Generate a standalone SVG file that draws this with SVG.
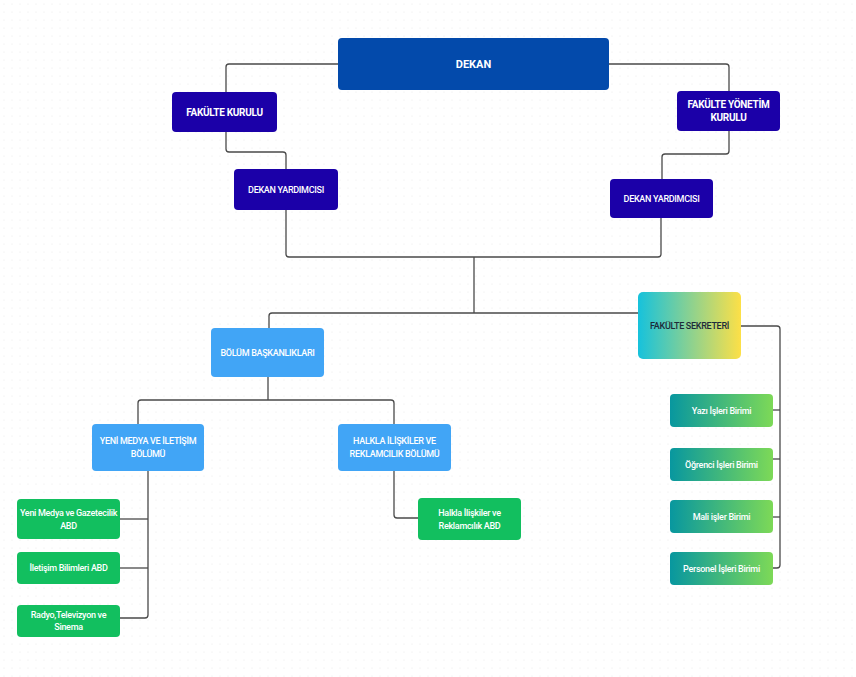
<svg xmlns="http://www.w3.org/2000/svg" width="856" height="677" viewBox="0 0 856 677">
<style>
.t{font-family:Roboto,"Liberation Sans",sans-serif;text-anchor:middle;dominant-baseline:central}
.w{fill:#ffffff}
.b{font-weight:bold}
.m{font-weight:500;font-size:9px;letter-spacing:-0.3px}
.c{fill:none;stroke:#4a4a4a;stroke-width:1.3}
</style>
<defs>
<pattern id="dots" width="8" height="8" patternUnits="userSpaceOnUse">
<circle cx="4" cy="4" r="0.6" fill="#e6e6e6"/>
</pattern>
<linearGradient id="gs" x1="0" y1="0" x2="1" y2="0">
<stop offset="0" stop-color="#16c2dc"/>
<stop offset="1" stop-color="#fde047"/>
</linearGradient>
<linearGradient id="gt" x1="0" y1="0" x2="1" y2="0">
<stop offset="0" stop-color="#08979f"/>
<stop offset="1" stop-color="#7dd957"/>
</linearGradient>
</defs>
<rect width="856" height="677" fill="#ffffff"/>
<rect width="856" height="677" fill="url(#dots)"/>
<g id="connectors" class="c">
<path d="M338,64 H229 Q226,64 226,67 V92"/>
<path d="M226,132 V149 Q226,152 229,152 H283 Q286,152 286,155 V169"/>
<path d="M286,210 V254 Q286,257 289,257 H658 Q661,257 661,254 V218"/>
<path d="M474,257 V313"/>
<path d="M638,313 H272 Q269,313 269,316 V328"/>
<path d="M609,64 H726 Q729,64 729,67 V91"/>
<path d="M729,131 V151 Q729,154 726,154 H665 Q662,154 662,157 V179"/>
<path d="M268,377 V400"/>
<path d="M138,424 V403 Q138,400 141,400 H391 Q394,400 394,403 V424"/>
<path d="M148,471 V615 Q148,618 145,618 H120"/>
<path d="M148,519 H120"/>
<path d="M148,568 H120"/>
<path d="M394,471 V515 Q394,518 397,518 H418"/>
<path d="M741,326 H777 Q780,326 780,329 V565 Q780,568 777,568 H773"/>
<path d="M780,410 H773"/>
<path d="M780,459 H773"/>
<path d="M780,517 H773"/>
</g>
<g id="dekan">
<rect x="338" y="38" width="271" height="52" rx="4" fill="#034aab"/>
<text class="t w b" x="473.5" y="64" font-size="11">DEKAN</text>
</g>
<g id="fakulte-kurulu">
<rect x="172" y="92" width="105" height="40" rx="4" fill="#1b00a8"/>
<text class="t w b" x="224.5" y="112" font-size="10" letter-spacing="-0.3">FAKÜLTE KURULU</text>
</g>
<g id="fakulte-yonetim-kurulu">
<rect x="677" y="91" width="103" height="40" rx="4" fill="#1b00a8"/>
<text class="t w b" x="728.5" y="104.5" font-size="10" letter-spacing="-0.3">FAKÜLTE YÖNETİM</text>
<text class="t w b" x="728.5" y="117.5" font-size="10" letter-spacing="-0.3">KURULU</text>
</g>
<g id="dekan-yardimcisi-1">
<rect x="234" y="169" width="104" height="41" rx="4" fill="#1b00a8"/>
<text class="t w m" x="286" y="189.5">DEKAN YARDIMCISI</text>
</g>
<g id="dekan-yardimcisi-2">
<rect x="610" y="179" width="103" height="39" rx="4" fill="#1b00a8"/>
<text class="t w m" x="661.5" y="198.5">DEKAN YARDIMCISI</text>
</g>
<g id="bolum-baskanliklari">
<rect x="211" y="328" width="113" height="49" rx="4" fill="#41a5f6"/>
<text class="t w m" x="267.5" y="352.5">BÖLÜM BAŞKANLIKLARI</text>
</g>
<g id="fakulte-sekreteri">
<rect x="638" y="292" width="103" height="67" rx="5" fill="url(#gs)"/>
<text class="t m" x="689.5" y="325.5" fill="#1d2b3a">FAKÜLTE SEKRETERİ</text>
</g>
<g id="yeni-medya-bolumu">
<rect x="92" y="424" width="112" height="47" rx="4" fill="#41a5f6"/>
<text class="t w m" x="148" y="441">YENİ MEDYA VE İLETİŞİM</text>
<text class="t w m" x="148" y="453.5">BÖLÜMÜ</text>
</g>
<g id="halkla-iliskiler-bolumu">
<rect x="338" y="424" width="113" height="47" rx="4" fill="#41a5f6"/>
<text class="t w m" x="394.5" y="441">HALKLA İLİŞKİLER VE</text>
<text class="t w m" x="394.5" y="453.5">REKLAMCILIK BÖLÜMÜ</text>
</g>
<g id="yeni-medya-gazetecilik-abd">
<rect x="17" y="499" width="103" height="40" rx="4" fill="#12bf5f"/>
<text class="t w m" x="68.5" y="513">Yeni Medya ve Gazetecilik</text>
<text class="t w m" x="68.5" y="525.5">ABD</text>
</g>
<g id="iletisim-bilimleri-abd">
<rect x="17" y="552" width="103" height="32" rx="4" fill="#12bf5f"/>
<text class="t w m" x="68.5" y="568">İletişim Bilimleri ABD</text>
</g>
<g id="radyo-televizyon-sinema">
<rect x="17" y="605" width="103" height="32" rx="4" fill="#12bf5f"/>
<text class="t w m" x="68.5" y="615">Radyo,Televizyon ve</text>
<text class="t w m" x="68.5" y="627">Sinema</text>
</g>
<g id="halkla-iliskiler-abd">
<rect x="418" y="498" width="103" height="42" rx="4" fill="#12bf5f"/>
<text class="t w m" x="469.5" y="513">Halkla İlişkiler ve</text>
<text class="t w m" x="469.5" y="525.5">Reklamcılık ABD</text>
</g>
<g id="yazi-isleri-birimi">
<rect x="670" y="394" width="103" height="33" rx="4" fill="url(#gt)"/>
<text class="t w m" x="721.5" y="410.5">Yazı İşleri Birimi</text>
</g>
<g id="ogrenci-isleri-birimi">
<rect x="670" y="448" width="103" height="33" rx="4" fill="url(#gt)"/>
<text class="t w m" x="721.5" y="464.5">Öğrenci İşleri Birimi</text>
</g>
<g id="mali-isler-birimi">
<rect x="670" y="500" width="103" height="33" rx="4" fill="url(#gt)"/>
<text class="t w m" x="721.5" y="516.5">Mali işler Birimi</text>
</g>
<g id="personel-isleri-birimi">
<rect x="670" y="552" width="103" height="33" rx="4" fill="url(#gt)"/>
<text class="t w m" x="721.5" y="568.5">Personel İşleri Birimi</text>
</g>
</svg>
